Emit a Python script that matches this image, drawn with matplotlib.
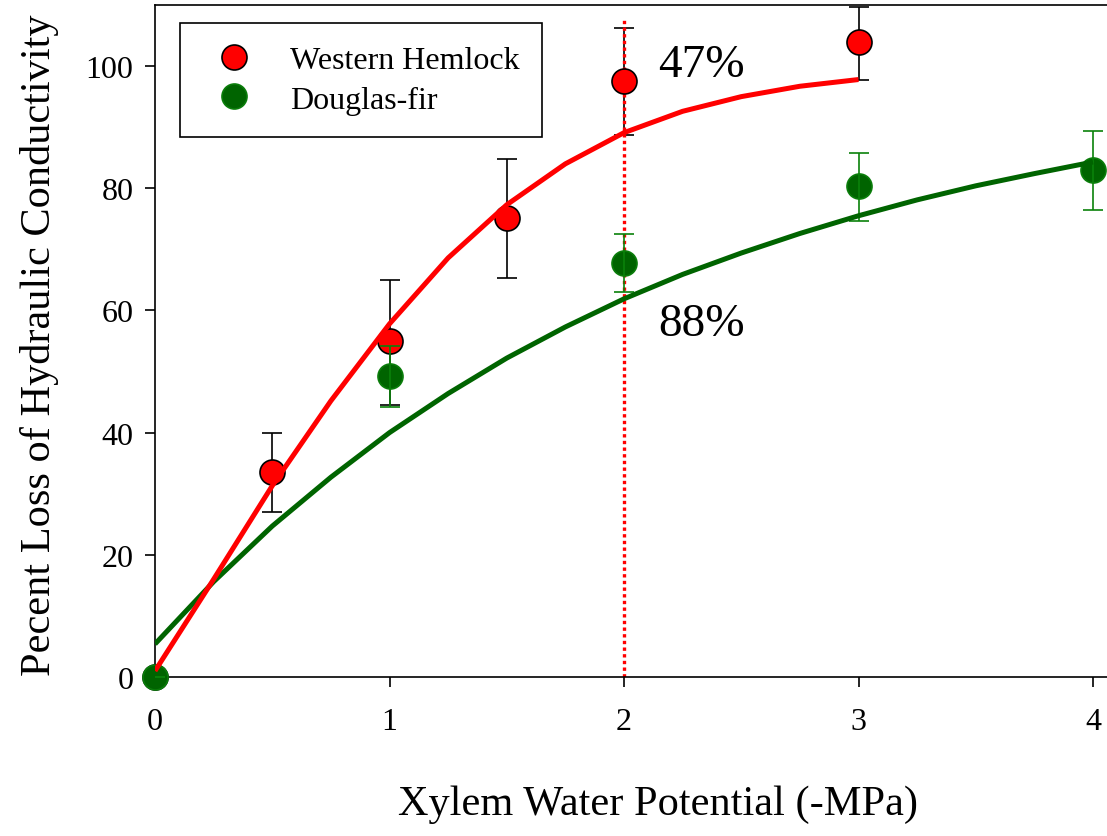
import numpy as np
import matplotlib
matplotlib.use("Agg")
import matplotlib.pyplot as plt

plt.rcParams['font.family'] = ['Liberation Serif', 'DejaVu Serif']

# measured points (mean +/- error)
hem_x = [0, 0.5, 1, 1.5, 2, 3]
hem_y = [0, 33.5, 55.0, 75.1, 97.5, 103.9]
hem_lo = [0, 27.0, 44.5, 65.3, 88.7, 97.8]
hem_hi = [0, 40.0, 65.0, 84.8, 106.2, 109.7]

fir_x = [0, 1, 2, 3, 4]
fir_y = [0, 49.2, 67.7, 80.3, 83.0]
fir_lo = [0, 44.2, 63.0, 74.7, 76.5]
fir_hi = [0, 54.2, 72.5, 85.8, 89.3]

# fitted curves
hem_fit_x = [0, 0.25, 0.5, 0.75, 1.0, 1.25, 1.5, 1.75, 2.0, 2.25, 2.5, 2.75, 3.0]
hem_fit_y = [1.0, 16.0, 31.3, 45.2, 57.8, 68.6, 77.3, 84.0, 89.1, 92.6, 95.0, 96.7, 97.8]
fir_fit_x = [0, 0.25, 0.5, 0.75, 1.0, 1.25, 1.5, 1.75, 2.0, 2.25, 2.5, 2.75, 3.0, 3.25, 3.5, 3.75, 4.0]
fir_fit_y = [5.4, 15.6, 24.7, 32.7, 40.0, 46.4, 52.2, 57.3, 61.9, 65.9, 69.4, 72.6, 75.5, 78.1, 80.4, 82.4, 84.3]

cutoff = 2.0
labels_pct = ['47%', '88%']

W, H = 1107, 837
fig = plt.figure(figsize=(W / 100, H / 100), dpi=100)
ax = fig.add_axes([155 / W, 1 - 678 / H, 952 / W, 672 / H])

hem_err = [np.array(hem_y) - np.array(hem_lo), np.array(hem_hi) - np.array(hem_y)]
fir_err = [np.array(fir_y) - np.array(fir_lo), np.array(fir_hi) - np.array(fir_y)]

MS = 18
# Western Hemlock error bars
ax.errorbar(hem_x, hem_y, yerr=hem_err, fmt='none', ecolor='black',
            elinewidth=1.2, capsize=7.5, capthick=1.2, zorder=2)
ax.plot([cutoff, cutoff], [0, 108], color='red', lw=2.4,
        linestyle=(0, (1, 1)), zorder=2.5)
ax.plot(hem_x, hem_y, 'o', ms=MS, mfc='red', mec='black', mew=1.2, zorder=3,
        clip_on=False)
ax.plot(fir_x, fir_y, 'o', ms=MS, mfc='#006400', mec='#0a7d0a', mew=1.2,
        zorder=3.1, clip_on=False)
ax.errorbar(fir_x, fir_y, yerr=fir_err, fmt='none', ecolor='#0a820a',
            elinewidth=1.2, capsize=7.5, capthick=1.2, zorder=3.5)

ax.plot(fir_fit_x, fir_fit_y, color='#006400', lw=3.6, zorder=4,
        solid_capstyle='butt', solid_joinstyle='round')
ax.plot(hem_fit_x, hem_fit_y, color='red', lw=3.6, zorder=5,
        solid_capstyle='butt', solid_joinstyle='round')

ax.text(2.33, 100.3, labels_pct[0], fontsize=34, ha='center', va='center')
ax.text(2.33, 57.8, labels_pct[1], fontsize=34, ha='center', va='center')

# legend handles
h1, = ax.plot([], [], 'o', ms=MS, mfc='red', mec='black', mew=1.2)
h2, = ax.plot([], [], 'o', ms=MS, mfc='#006400', mec='#0a7d0a', mew=1.2)
leg = ax.legend([h1, h2], ['Western Hemlock', 'Douglas-fir'],
                loc='upper left', bbox_to_anchor=(25 / 952, 1 - 18 / 672),
                borderaxespad=0, fontsize=23, fancybox=False, framealpha=1,
                edgecolor='black', borderpad=0.7, handlelength=2.0,
                handletextpad=0.75, labelspacing=0.33)
leg.get_frame().set_linewidth(1.2)

ax.set_xlim(0, 952 / 234.5)
ax.set_ylim(0, 110)
ax.set_xticks([0, 1, 2, 3, 4])
ax.set_yticks([0, 20, 40, 60, 80, 100])
ax.spines['right'].set_visible(False)
for s in ['left', 'bottom', 'top']:
    ax.spines[s].set_linewidth(1.2)
ax.tick_params(axis='both', direction='out', length=7.5, width=1.2,
               labelsize=23)
ax.tick_params(axis='x', pad=14)
ax.tick_params(axis='y', pad=8)

fig.text(658 / W, 1 - 805 / H, 'Xylem Water Potential (-MPa)', fontsize=30.5,
         ha='center', va='center')
fig.text(40 / W, 1 - 345 / H, 'Pecent Loss of Hydraulic Conductivity',
         fontsize=30.5, ha='center', va='center', rotation=90)

fig.savefig('out.png', dpi=100)
